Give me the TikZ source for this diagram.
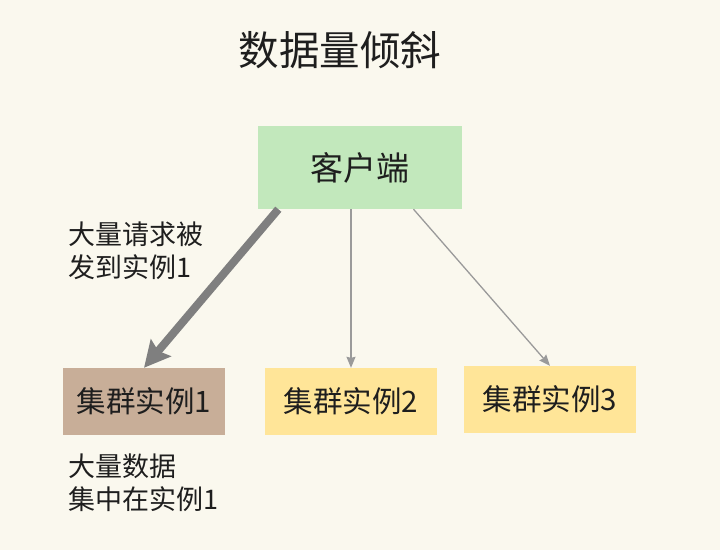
\documentclass[tikz,border=0pt]{standalone}
\usepackage{fontspec}
\newfontfamily\cjk{Noto Sans CJK SC}
\usetikzlibrary{arrows.meta}
\definecolor{bgcream}{HTML}{FAF8EE}
\definecolor{clientgreen}{HTML}{C2E8BC}
\definecolor{hottan}{HTML}{C8AE98}
\definecolor{coldyellow}{HTML}{FFE598}
\definecolor{txtdark}{HTML}{1E1E1E}
\definecolor{thingray}{HTML}{9A9A9A}
\definecolor{thickgray}{HTML}{7F7F7F}

\begin{document}
\begin{tikzpicture}[x=1pt,y=-1pt]
    % Styles for boxes and lines
    \tikzset{
      box/.style={rectangle, draw=none, align=center, inner sep=0pt, minimum height=67pt, text=txtdark, font=\cjk\fontsize{29.5}{34}\selectfont},
      note/.style={anchor=north west, align=left, inner sep=0pt, text=txtdark, font=\cjk\fontsize{27}{33}\selectfont},
      arrow/.style={draw=thingray, line width=1.3pt, -{Stealth[length=11pt,width=9pt,inset=1pt]}},
      bigarrow/.style={draw=thickgray, line width=8pt, -{Stealth[length=26pt,width=26pt,inset=4pt]}}
    }

    % Background
    \fill[bgcream] (0,0) rectangle (720,550);
    \useasboundingbox (0,0) rectangle (720,550);

    % Title
    \node[text=txtdark, font=\cjk\fontsize{40.5}{46}\selectfont] (title) at (340,50) {数据量倾斜};

    % Nodes with explicit coordinates
    \node[box, fill=clientgreen, minimum width=204pt, minimum height=83pt, font=\cjk\fontsize{33}{38}\selectfont] (client) at (359.5,167.5) {客户端};
    \node[box, fill=hottan, minimum width=162pt] (inst1) at (144,401.5) {集群实例1};
    \node[box, fill=coldyellow, minimum width=172pt] (inst2) at (351,401.5) {集群实例2};
    \node[box, fill=coldyellow, minimum width=172pt] (inst3) at (550,399.5) {集群实例3};

    % Notes
    \node[note] (reqnote) at (68,222) {大量请求被\\发到实例1};
    \node[note] (datanote) at (68,454) {大量数据\\集中在实例1};

    % Arrows
    \draw[bigarrow] ([xshift=21pt]client.south west) -- (inst1.north);
    \draw[arrow] (client.south -| inst2.north) -- (inst2.north);
    \draw[arrow] ([xshift=54pt]client.south) -- (inst3.north);

\end{tikzpicture}
\end{document}
